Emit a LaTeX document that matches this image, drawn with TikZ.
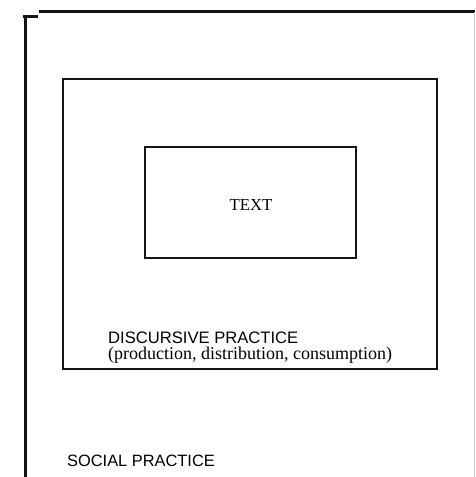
\documentclass[tikz,border=0pt]{standalone}
\usepackage{fontspec}
\setmainfont{Liberation Serif}
\newfontfamily\arialfont{Liberation Sans}
\usepackage{xcolor}
\definecolor{inkblack}{RGB}{20,20,20}
\definecolor{edgegray}{RGB}{200,200,200}
\usepackage{tikz}
\usetikzlibrary{positioning}

\begin{document}
\begin{tikzpicture}[x=1pt, y=-1pt]
  \useasboundingbox (0,0) rectangle (475,477);
  % Outer frame (social practice), open at right and bottom
  \draw[inkblack, line width=3pt] (23,16.5) -- (38,16.5);
  \draw[inkblack, line width=3pt] (25,16) -- (25,477);
  \draw[inkblack, line width=3pt] (39,11.5) -- (475,11.5);
  \draw[edgegray, line width=1pt] (474,12) -- (474,477);

  % --- Middle box: discursive practice ---
  \draw[inkblack, line width=2.8pt] (63,79) rectangle (437,369);
  \node[font=\arialfont\fontsize{16.6}{18}\selectfont, inner sep=0, anchor=base west]
       (discursive) at (108,343) {DISCURSIVE PRACTICE};
  \node[font=\fontsize{18}{20}\selectfont, inner sep=0, anchor=base west]
       (processes) at (108,359) {(production, distribution, consumption)};

  % --- Inner box: text ---
  \draw[inkblack, line width=2.8pt] (145,147) rectangle (356,258);
  \node[font=\fontsize{16.8}{18}\selectfont, inner sep=0, anchor=base]
       (text) at (251,210) {TEXT};

  % --- Outer label ---
  \node[font=\arialfont\fontsize{16.4}{18}\selectfont, inner sep=0, anchor=base west]
       (social) at (67,466) {SOCIAL PRACTICE};
\end{tikzpicture}
\end{document}
